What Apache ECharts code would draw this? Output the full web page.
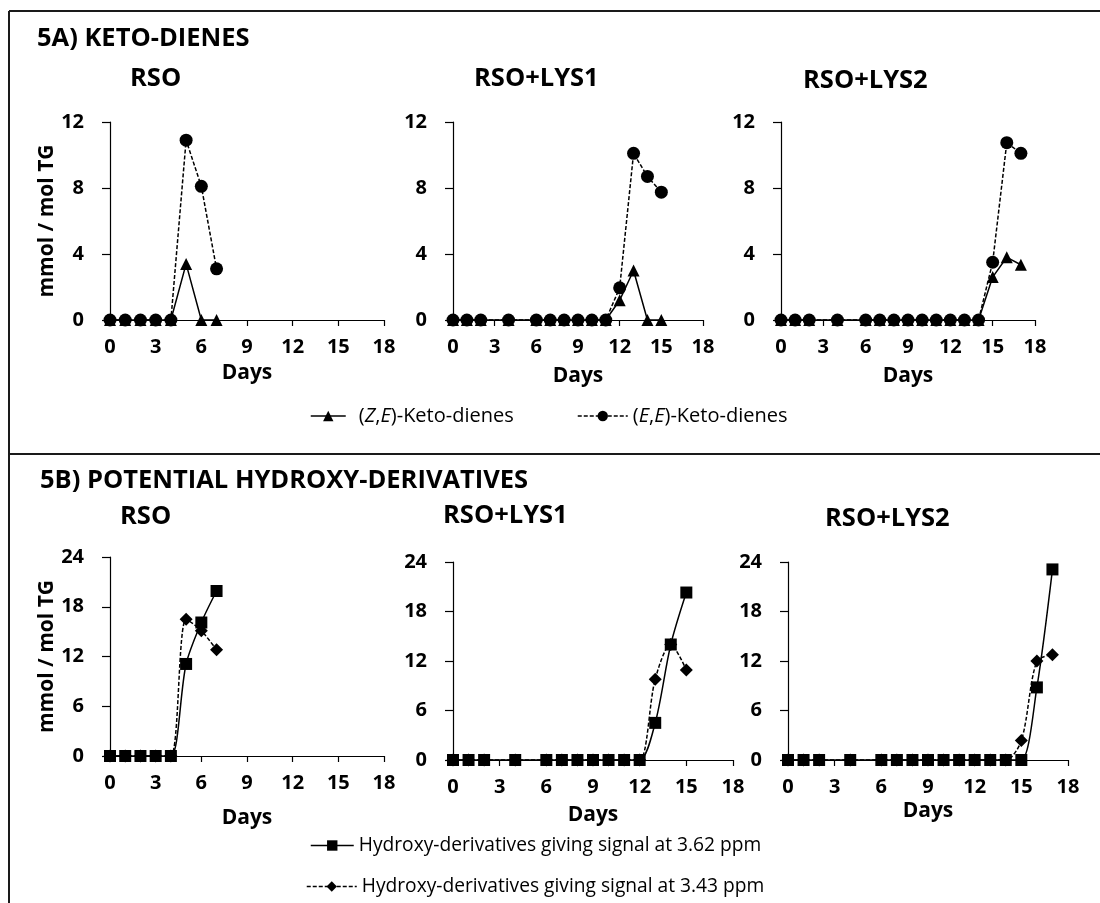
<!DOCTYPE html>
<html>
<head>
<meta charset="utf-8">
<script src="https://cdn.jsdelivr.net/npm/echarts@6/dist/echarts.min.js"></script>
<style>
  html, body { margin: 0; padding: 0; background: #fff; }
  #chart { width: 1100px; height: 903px; }
</style>
</head>
<body>
<div id="chart"></div>
<script>
// Sampling days for each oil
const daysRSO  = [0, 1, 2, 3, 4, 5, 6, 7];
const daysLYS1 = [0, 1, 2, 4, 6, 7, 8, 9, 10, 11, 12, 13, 14, 15];
const daysLYS2 = [0, 1, 2, 4, 6, 7, 8, 9, 10, 11, 12, 13, 14, 15, 16, 17];

// 5A) keto-dienes, mmol / mol TG
const zeKetoRSO  = [0, 0, 0, 0, 0, 3.4, 0, 0];
const eeKetoRSO  = [0, 0, 0, 0, 0, 10.9, 8.1, 3.1];
const zeKetoLYS1 = [0, 0, 0, 0, 0, 0, 0, 0, 0, 0, 1.2, 3.0, 0, 0];
const eeKetoLYS1 = [0, 0, 0, 0, 0, 0, 0, 0, 0, 0, 1.95, 10.1, 8.7, 7.75];
const zeKetoLYS2 = [0, 0, 0, 0, 0, 0, 0, 0, 0, 0, 0, 0, 0, 2.6, 3.8, 3.35];
const eeKetoLYS2 = [0, 0, 0, 0, 0, 0, 0, 0, 0, 0, 0, 0, 0, 3.5, 10.75, 10.1];

// 5B) potential hydroxy-derivatives, mmol / mol TG
const hy362RSO  = [0, 0, 0, 0, 0, 11.1, 16.1, 19.9];
const hy343RSO  = [0, 0, 0, 0, 0, 16.5, 15.1, 12.8];
const hy362LYS1 = [0, 0, 0, 0, 0, 0, 0, 0, 0, 0, 0, 4.5, 14.0, 20.3];
const hy343LYS1 = [0, 0, 0, 0, 0, 0, 0, 0, 0, 0, 0, 9.8, 14.0, 10.9];
const hy362LYS2 = [0, 0, 0, 0, 0, 0, 0, 0, 0, 0, 0, 0, 0, 0, 8.8, 23.1];
const hy343LYS2 = [0, 0, 0, 0, 0, 0, 0, 0, 0, 0, 0, 0, 0, 2.35, 12.0, 12.75];

// Axis ranges and labels
const dayAxis   = { min: 0, max: 18, interval: 3 };
const ketoAxis  = { min: 0, max: 12, interval: 4 };
const hydroAxis = { min: 0, max: 24, interval: 6 };
const panelNames = ['RSO', 'RSO+LYS1', 'RSO+LYS2'];
const sectionNames = ['5A) KETO-DIENES', '5B) POTENTIAL HYDROXY-DERIVATIVES'];
const xAxisName = 'Days';
const yAxisName = 'mmol / mol TG';
const nameZE = '(Z,E)-Keto-dienes';
const nameEE = '(E,E)-Keto-dienes';
const name362 = 'Hydroxy-derivatives giving signal at 3.62 ppm';
const name343 = 'Hydroxy-derivatives giving signal at 3.43 ppm';

const FONT = '"Open Sans"';
const INK = '#000';

const pair = (xs, ys) => xs.map((d, i) => [d, ys[i]]);

// grid boxes: three keto panels on top, three hydroxy panels below
const gridBoxes = [
  { left: 110, top: 122, width: 274, height: 198 },
  { left: 453, top: 122, width: 250, height: 198 },
  { left: 781, top: 122, width: 254, height: 198 },
  { left: 110, top: 557, width: 274, height: 199 },
  { left: 453, top: 562, width: 280, height: 198 },
  { left: 788, top: 562, width: 280, height: 198 }
];
const dayNameGaps = [43, 46, 46, 52, 45, 41];

const grid = gridBoxes.map(b => Object.assign({ containLabel: false, outerBoundsMode: 'none' }, b));

const xAxis = gridBoxes.map((b, i) => ({
  type: 'value', gridIndex: i,
  min: dayAxis.min, max: dayAxis.max, interval: dayAxis.interval,
  axisLine: { show: true, onZero: true, lineStyle: { color: INK, width: 1.2 } },
  axisTick: { show: true, inside: false, length: 6, lineStyle: { color: INK, width: 1.2 } },
  axisLabel: { show: true, margin: 17, color: INK, fontFamily: FONT, fontWeight: 'bold', fontSize: 20,
               showMinLabel: true, showMaxLabel: true, hideOverlap: false },
  splitLine: { show: false },
  name: xAxisName, nameLocation: 'middle', nameGap: dayNameGaps[i],
  nameTextStyle: { color: INK, fontFamily: FONT, fontWeight: 'bold', fontSize: 21 }
}));

const yAxis = gridBoxes.map((b, i) => {
  const r = i < 3 ? ketoAxis : hydroAxis;
  return {
    type: 'value', gridIndex: i,
    min: r.min, max: r.max, interval: r.interval,
    axisLine: { show: true, onZero: false, lineStyle: { color: INK, width: 1.2 } },
    axisTick: { show: true, inside: false, length: 8, lineStyle: { color: INK, width: 1.2 } },
    axisLabel: { show: true, margin: 26, color: INK, fontFamily: FONT, fontWeight: 'bold', fontSize: 20,
                 showMinLabel: true, showMaxLabel: true, hideOverlap: false },
    splitLine: { show: false },
    name: (i === 0 || i === 3) ? yAxisName : '',
    nameLocation: 'middle', nameGap: 40,
    nameTextStyle: { color: INK, fontFamily: FONT, fontWeight: 'bold', fontSize: 21 }
  };
});

function lineSeries(name, gridIdx, xs, ys, symbol, size, dashed, smooth) {
  return {
    name, type: 'line',
    xAxisIndex: gridIdx, yAxisIndex: gridIdx,
    data: pair(xs, ys),
    symbol, symbolSize: size, showSymbol: true,
    smooth: smooth ? 0.3 : false,
    lineStyle: { color: INK, width: 1.5, type: dashed ? [4, 2] : 'solid' },
    itemStyle: { color: INK, borderWidth: 0 },
    emphasis: { disabled: true },
    animation: false
  };
}

const series = [
  // keto-dienes: triangles first so circles sit on top
  lineSeries(nameZE, 0, daysRSO,  zeKetoRSO,  'triangle', 12, false, false),
  lineSeries(nameEE, 0, daysRSO,  eeKetoRSO,  'circle',   13, true,  false),
  lineSeries(nameZE, 1, daysLYS1, zeKetoLYS1, 'triangle', 12, false, false),
  lineSeries(nameEE, 1, daysLYS1, eeKetoLYS1, 'circle',   13, true,  false),
  lineSeries(nameZE, 2, daysLYS2, zeKetoLYS2, 'triangle', 12, false, false),
  lineSeries(nameEE, 2, daysLYS2, eeKetoLYS2, 'circle',   13, true,  false),
  // hydroxy-derivatives: diamonds first so squares sit on top
  lineSeries(name343, 3, daysRSO,  hy343RSO,  'diamond', 13, true,  true),
  lineSeries(name362, 3, daysRSO,  hy362RSO,  'rect',    12, false, true),
  lineSeries(name343, 4, daysLYS1, hy343LYS1, 'diamond', 13, true,  true),
  lineSeries(name362, 4, daysLYS1, hy362LYS1, 'rect',    12, false, true),
  lineSeries(name343, 5, daysLYS2, hy343LYS2, 'diamond', 13, true,  true),
  lineSeries(name362, 5, daysLYS2, hy362LYS2, 'rect',    12, false, true)
];

const headStyle = (size) => ({ color: INK, fontFamily: FONT, fontWeight: 'bold', fontSize: size });
const title = [
  { text: sectionNames[0], left: 37,  top: 26,  padding: 0, textStyle: headStyle(25.5) },
  { text: panelNames[0],   left: 130, top: 66,  padding: 0, textStyle: headStyle(25.5) },
  { text: panelNames[1],   left: 474, top: 66,  padding: 0, textStyle: headStyle(25.5) },
  { text: panelNames[2],   left: 803, top: 68,  padding: 0, textStyle: headStyle(25.5) },
  { text: sectionNames[1], left: 40,  top: 468, padding: 0, textStyle: headStyle(25.5) },
  { text: panelNames[0],   left: 120, top: 504, padding: 0, textStyle: headStyle(25.5) },
  { text: panelNames[1],   left: 443, top: 503, padding: 0, textStyle: headStyle(25.5) },
  { text: panelNames[2],   left: 825, top: 506, padding: 0, textStyle: headStyle(25.5) }
];

const legendStyle = (size) => ({
  color: INK, fontFamily: FONT, fontSize: size,
  rich: { i: { fontStyle: 'italic', color: INK, fontFamily: FONT, fontSize: size } }
});
const italicPair = name => name.replace(/^\((\w),(\w)\)/, '({i|$1},{i|$2})');
function legendAt(name, left, top, itemWidth, pad, size, fmt) {
  return {
    data: [name], left, top, orient: 'horizontal',
    itemWidth, itemHeight: 13, padding: 0, selectedMode: false,
    lineStyle: { type: 'inherit', width: 1.5 },
    textStyle: Object.assign({ padding: [0, 0, 0, pad] }, legendStyle(size)),
    formatter: fmt || (n => n)
  };
}
const legend = [
  legendAt(nameZE, 310, 406, 35, 8, 20, italicPair),
  legendAt(nameEE, 577, 406, 50, 0, 20, italicPair),
  legendAt(name362, 310, 836, 43, 0, 19.2),
  legendAt(name343, 306, 877, 50, 0, 19.2)
];

// panel frame: top rule, left rule and the divider between 5A and 5B
const frameStyle = { stroke: '#1a1a1a', lineWidth: 2 };
const graphic = [
  { type: 'line', shape: { x1: 9, y1: 11, x2: 1100, y2: 11 }, style: frameStyle, silent: true },
  { type: 'line', shape: { x1: 9, y1: 11, x2: 9, y2: 903 }, style: frameStyle, silent: true },
  { type: 'line', shape: { x1: 9, y1: 454, x2: 1100, y2: 454 }, style: frameStyle, silent: true }
];

const chart = echarts.init(document.getElementById('chart'), null, { renderer: 'canvas' });
chart.setOption({
  backgroundColor: '#fff',
  animation: false,
  title, legend, grid, xAxis, yAxis, series, graphic,
  tooltip: { show: false }
});
</script>
</body>
</html>
